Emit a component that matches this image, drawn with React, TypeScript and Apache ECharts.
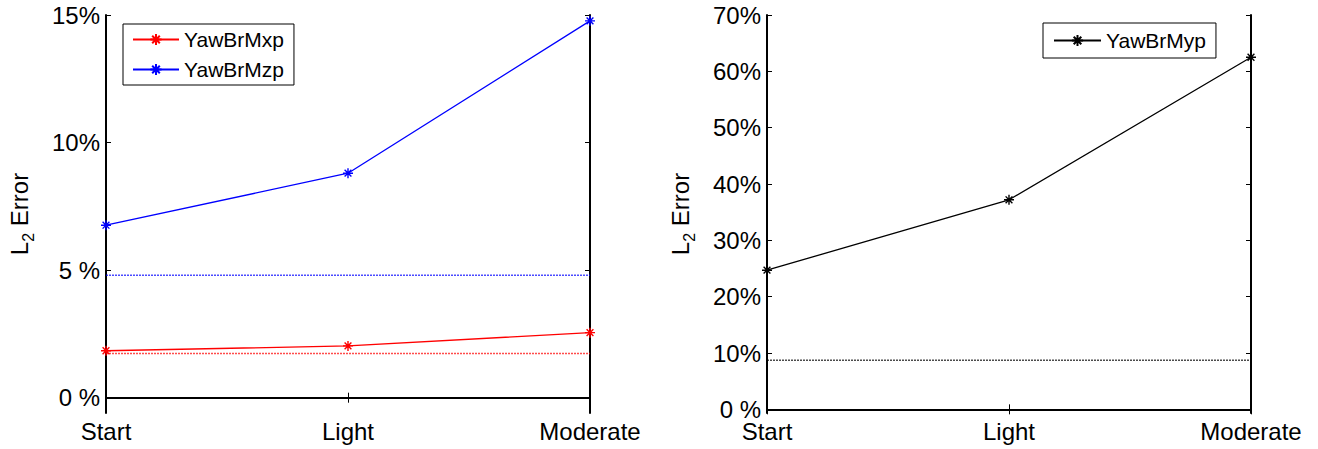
import React, { useEffect, useRef } from "react";
import * as echarts from "echarts";

const categories = ["Start", "Light", "Moderate"];
const yawBrMxp = [1.84, 2.03, 2.55];
const yawBrMzp = [6.76, 8.8, 14.77];
const yawBrMyp = [24.7, 37.2, 62.5];
const refMxp = [1.73, 1.73, 1.73];
const refMzp = [4.8, 4.8, 4.8];
const refMyp = [8.7, 8.7, 8.7];
const leftTicks = [0, 5, 10, 15];
const leftTickLabels = ["0 %", "5 %", "10%", "15%"];
const rightTicks = [0, 10, 20, 30, 40, 50, 60, 70];
const rightTickLabels = ["0 %", "10%", "20%", "30%", "40%", "50%", "60%", "70%"];

const FONT = "Liberation Sans";
const STAR = "path://M0 5L10 5M5 0L5 10M1.6 1.6L8.4 8.4M8.4 1.6L1.6 8.4";

function makeAxes(gridIndex: number, min: number, max: number, ticks: number[], labels: string[]) {
  const x = [
    {
      type: "category",
      gridIndex,
      data: categories,
      boundaryGap: false,
      position: "bottom",
      axisLine: { lineStyle: { color: "#000", width: 2 } },
      axisTick: { inside: true, length: 5, lineStyle: { color: "#000", width: 1 } },
      axisLabel: { color: "#000", fontSize: 24, fontFamily: FONT, margin: 6 },
      splitLine: { show: false },
    },
    {
      type: "category",
      gridIndex,
      data: categories,
      boundaryGap: false,
      position: "top",
      axisLine: { lineStyle: { color: "#000", width: 1.5 } },
      axisTick: { inside: true, length: 5, lineStyle: { color: "#000", width: 1 } },
      axisLabel: { show: false },
      splitLine: { show: false },
    },
  ];
  const y = [
    {
      type: "value",
      gridIndex,
      min,
      max,
      position: "left",
      name: "{a|L}{s|2}{a| Error}",
      nameLocation: "middle",
      nameRotate: 90,
      nameGap: 70,
      nameTextStyle: {
        rich: {
          a: { fontSize: 24, fontFamily: FONT, color: "#000", verticalAlign: "top", height: 26 },
          s: { fontSize: 16, fontFamily: FONT, color: "#000", verticalAlign: "top", padding: [14, 0, 0, 0] },
        },
      },
      axisLine: { show: true, lineStyle: { color: "#000", width: 2 } },
      axisTick: { show: true, inside: true, length: 5, customValues: ticks, lineStyle: { color: "#000", width: 1 } },
      axisLabel: {
        color: "#000",
        fontSize: 24,
        fontFamily: FONT,
        margin: 6,
        customValues: ticks,
        formatter: (v: number) => labels[ticks.indexOf(v)] ?? "",
      },
      splitLine: { show: false },
    },
    {
      type: "value",
      gridIndex,
      min,
      max,
      position: "right",
      axisLine: { show: true, lineStyle: { color: "#000", width: 2 } },
      axisTick: { show: true, inside: true, length: 5, customValues: ticks, lineStyle: { color: "#000", width: 1 } },
      axisLabel: { show: false },
      splitLine: { show: false },
    },
  ];
  return { x, y };
}

function lineSeries(name: string, data: number[], color: string, xAxisIndex: number, yAxisIndex: number) {
  return {
    type: "line",
    name,
    data,
    xAxisIndex,
    yAxisIndex,
    symbol: STAR,
    symbolSize: 10,
    showSymbol: true,
    color,
    z: 3,
    lineStyle: { color, width: 1.3 },
    itemStyle: { color, borderColor: color, borderWidth: 1.4 },
    emphasis: { disabled: true },
  };
}

function refSeries(name: string, data: number[], color: string, xAxisIndex: number, yAxisIndex: number) {
  return {
    type: "line",
    name,
    data,
    xAxisIndex,
    yAxisIndex,
    symbol: "none",
    silent: true,
    z: 2,
    color,
    lineStyle: { color, width: 1.5, type: [2, 1], opacity: 0.7 },
    emphasis: { disabled: true },
  };
}

export default function App() {
  const ref = useRef<HTMLDivElement>(null);
  useEffect(() => {
    if (!ref.current) return;
    const chart = echarts.init(ref.current, null, { renderer: "svg" });
    const a = makeAxes(0, -0.6, 15, leftTicks, leftTickLabels);
    const b = makeAxes(1, -0.65, 70, rightTicks, rightTickLabels);
    chart.setOption({
      animation: false,
      backgroundColor: "#fff",
      grid: [
        { left: 106, top: 15, width: 484, height: 398 },
        { left: 767, top: 15, width: 484, height: 398 },
      ],
      xAxis: [...a.x, ...b.x],
      yAxis: [...a.y, ...b.y],
      legend: [
        {
          data: ["YawBrMxp", "YawBrMzp"],
          orient: "vertical",
          left: 123,
          top: 24,
          padding: [5, 10, 5, 9],
          itemGap: 9,
          itemWidth: 46,
          itemHeight: 14,
          borderColor: "#000",
          borderWidth: 1,
          backgroundColor: "#fff",
          textStyle: { fontSize: 21, fontFamily: FONT, color: "#000" },
        },
        {
          data: ["YawBrMyp"],
          orient: "vertical",
          left: 1043,
          top: 23,
          padding: [7, 10, 7, 10],
          itemWidth: 47,
          itemHeight: 14,
          borderColor: "#000",
          borderWidth: 1,
          backgroundColor: "#fff",
          textStyle: { fontSize: 21, fontFamily: FONT, color: "#000" },
        },
      ],
      series: [
        refSeries("refMxp", refMxp, "#ff0000", 0, 0),
        refSeries("refMzp", refMzp, "#0000ff", 0, 0),
        refSeries("refMyp", refMyp, "#000000", 2, 2),
        lineSeries("YawBrMxp", yawBrMxp, "#ff0000", 0, 0),
        lineSeries("YawBrMzp", yawBrMzp, "#0000ff", 0, 0),
        lineSeries("YawBrMyp", yawBrMyp, "#000000", 2, 2),
      ],
    });
    return () => chart.dispose();
  }, []);
  return (
    <div
      ref={ref}
      style={{ position: "fixed", left: 0, top: 0, width: 1318, height: 449, background: "#fff" }}
    />
  );
}
